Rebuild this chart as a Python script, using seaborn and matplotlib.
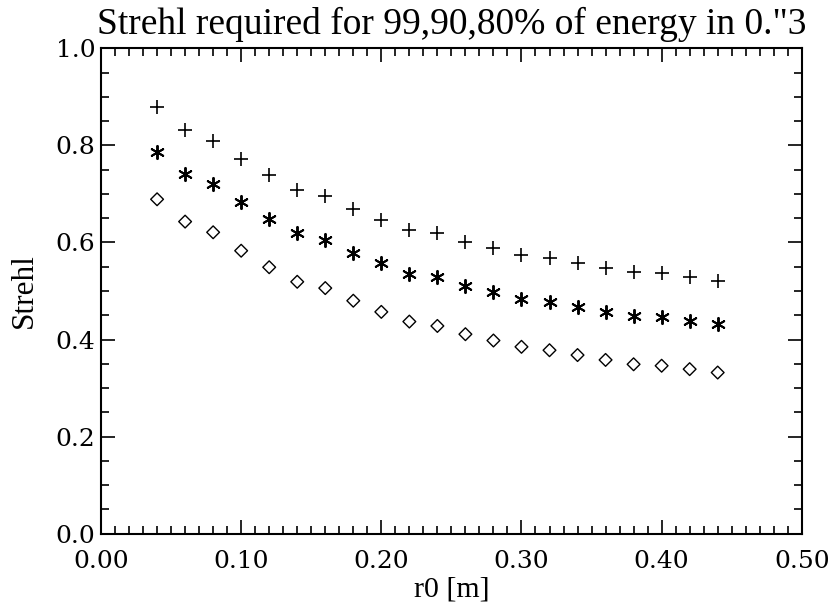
import matplotlib
matplotlib.use("Agg")
import matplotlib.pyplot as plt
import seaborn as sns
import pandas as pd
from matplotlib.ticker import MultipleLocator, FormatStrFormatter

# r0 values [m]
r0 = [0.04, 0.06, 0.08, 0.10, 0.12, 0.14, 0.16, 0.18, 0.20, 0.22, 0.24,
      0.26, 0.28, 0.30, 0.32, 0.34, 0.36, 0.38, 0.40, 0.42, 0.44]

# Strehl required for 99%, 90%, 80% of energy
strehl_99 = [0.879, 0.831, 0.810, 0.771, 0.740, 0.708, 0.695, 0.670, 0.646, 0.626, 0.619,
             0.602, 0.588, 0.574, 0.567, 0.557, 0.547, 0.540, 0.537, 0.528, 0.521]
strehl_90 = [0.787, 0.741, 0.721, 0.683, 0.648, 0.619, 0.605, 0.579, 0.557, 0.536, 0.528,
             0.510, 0.497, 0.484, 0.478, 0.468, 0.457, 0.448, 0.446, 0.439, 0.432]
strehl_80 = [0.689, 0.643, 0.621, 0.583, 0.549, 0.519, 0.506, 0.480, 0.457, 0.437, 0.428,
             0.411, 0.398, 0.385, 0.378, 0.368, 0.358, 0.349, 0.346, 0.339, 0.332]

sns.set_style("ticks")
plt.rcParams["font.family"] = ["Liberation Serif", "DejaVu Serif"]
plt.rcParams["text.color"] = "black"
plt.rcParams["axes.labelcolor"] = "black"
plt.rcParams["xtick.color"] = "black"
plt.rcParams["ytick.color"] = "black"
plt.rcParams["axes.edgecolor"] = "black"

df = pd.DataFrame({"r0": r0, "s99": strehl_99, "s90": strehl_90, "s80": strehl_80})

fig = plt.figure(figsize=(8.3, 6.12), dpi=100)
ax = fig.add_axes([0.1217, 0.128, 0.8443, 0.793])

sns.scatterplot(data=df, x="r0", y="s99", marker="+", color="black", s=100,
                linewidth=1.2, ax=ax)
sns.scatterplot(data=df, x="r0", y="s90", marker=(6, 2, 0), color="black", s=90,
                linewidth=1.4, ax=ax)
sns.scatterplot(data=df, x="r0", y="s80", marker="D", facecolor="none", edgecolor="black",
                s=42, linewidth=1.0, ax=ax)

ax.set_xlim(0.0, 0.5)
ax.set_ylim(0.0, 1.0)
ax.xaxis.set_major_locator(MultipleLocator(0.1))
ax.xaxis.set_minor_locator(MultipleLocator(0.01))
ax.yaxis.set_major_locator(MultipleLocator(0.2))
ax.yaxis.set_minor_locator(MultipleLocator(0.05))
ax.xaxis.set_major_formatter(FormatStrFormatter("%.2f"))
ax.yaxis.set_major_formatter(FormatStrFormatter("%.1f"))

ax.tick_params(which="both", direction="in", top=True, right=True, width=1.2)
ax.tick_params(which="major", length=10)
ax.tick_params(which="minor", length=5.5)
ax.tick_params(axis="x", pad=12)
ax.tick_params(axis="y", pad=4)
for lab in ax.get_xticklabels() + ax.get_yticklabels():
    lab.set_family("DejaVu Serif")
    lab.set_fontsize(18)
for sp in ax.spines.values():
    sp.set_linewidth(1.5)

ax.set_xlabel("r0 [m]", fontsize=21.5, labelpad=2)
ax.set_ylabel("Strehl", fontsize=22.5, labelpad=12)
ax.set_title("Strehl required for 99,90,80% of energy in 0.\"3", fontsize=27, pad=10)

fig.savefig("out.png", dpi=100, facecolor="white")
